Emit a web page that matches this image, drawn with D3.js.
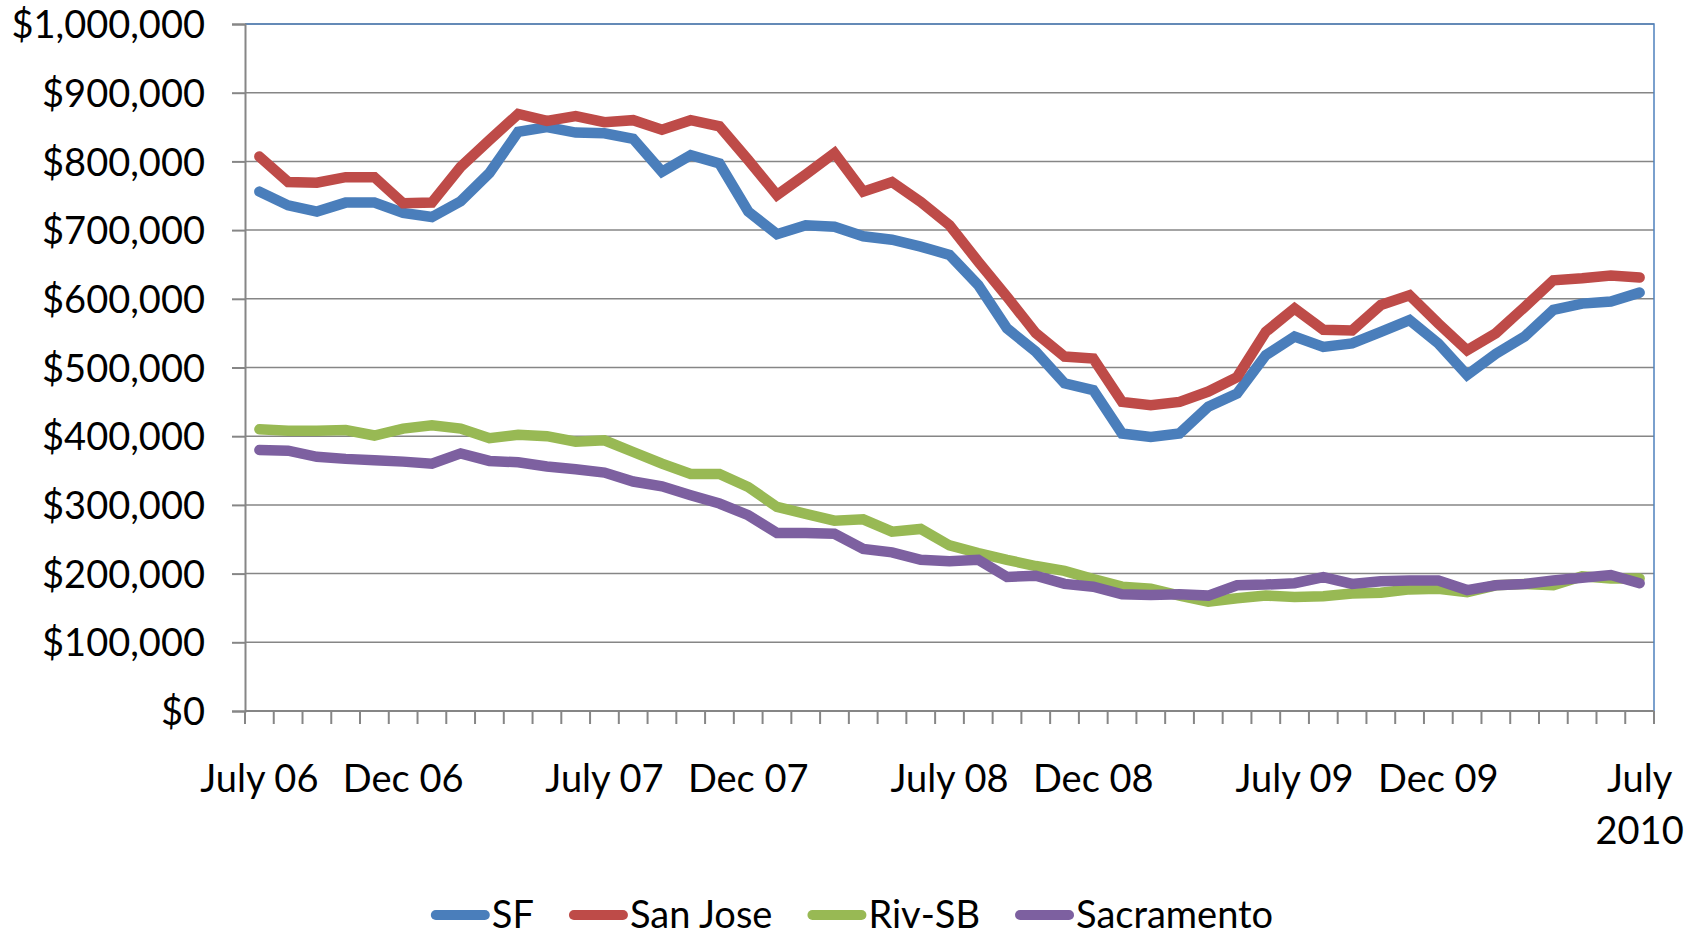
<!DOCTYPE html>
<html>
<head>
<meta charset="utf-8">
<script src="https://cdn.jsdelivr.net/npm/d3@7"></script>
<style>
  html, body { margin: 0; padding: 0; background: #fff; }
  svg { display: block; font-family: Lato, "Noto Sans", sans-serif; }
  .label { font-size: 38px; fill: #000; }
</style>
</head>
<body>
<div id="chart"></div>
<script>
// months July 2006 .. July 2010
const months = [
  "2006-07", "2006-08", "2006-09", "2006-10", "2006-11", "2006-12",
  "2007-01", "2007-02", "2007-03", "2007-04", "2007-05", "2007-06",
  "2007-07", "2007-08", "2007-09", "2007-10", "2007-11", "2007-12",
  "2008-01", "2008-02", "2008-03", "2008-04", "2008-05", "2008-06",
  "2008-07", "2008-08", "2008-09", "2008-10", "2008-11", "2008-12",
  "2009-01", "2009-02", "2009-03", "2009-04", "2009-05", "2009-06",
  "2009-07", "2009-08", "2009-09", "2009-10", "2009-11", "2009-12",
  "2010-01", "2010-02", "2010-03", "2010-04", "2010-05", "2010-06",
  "2010-07",
];

// median prices, $ thousands
const sf = [
  756, 736, 727, 740, 740, 725, 719, 742, 783, 843, 850, 842, 841, 833, 785, 809, 797,
  727, 694, 707, 705, 691, 686, 676, 664, 620, 557, 523, 477, 467, 404, 399, 404,
  443, 462, 518, 545, 530, 535, 552, 569, 535, 489, 520, 545, 584, 593, 596, 609,
];
const sanJose = [
  807, 770, 769, 777, 777, 739, 740, 792, 831, 869, 859, 866, 857, 860, 846, 860, 851,
  802, 751, 781, 812, 756, 770, 741, 707, 654, 603, 550, 516, 513, 450, 445, 450,
  465, 486, 552, 586, 555, 554, 591, 605, 564, 525, 550, 588, 627, 630, 634, 631,
];
const rivSB = [
  410, 408, 408, 409, 401, 411, 416, 411, 397, 402, 400, 392, 394, 377, 360, 345, 345,
  326, 297, 287, 277, 279, 261, 265, 241, 230, 220, 211, 204, 192, 181, 178, 168,
  159, 164, 168, 166, 167, 171, 172, 177, 178, 173, 183, 185, 183, 196, 193, 193,
];
const sacramento = [
  380, 379, 370, 367, 365, 363, 360, 375, 364, 362, 356, 352, 347, 334, 327, 314, 302,
  285, 259, 259, 258, 236, 231, 220, 218, 220, 195, 197, 185, 181, 170, 169, 170,
  168, 183, 184, 186, 195, 185, 189, 190, 190, 176, 183, 185, 190, 194, 198, 186,
];

const seriesNames = ["SF", "San Jose", "Riv-SB", "Sacramento"];
const seriesColors = ["#4a7ebb", "#be4b48", "#98b954", "#7d60a0"];
const seriesValues = [sf, sanJose, rivSB, sacramento];

const yTicks = [0, 100000, 200000, 300000, 400000, 500000, 600000, 700000, 800000, 900000, 1000000];
const xTickLabels = [
  ["2006-07", ["July 06"]],
  ["2006-12", ["Dec 06"]],
  ["2007-07", ["July 07"]],
  ["2007-12", ["Dec 07"]],
  ["2008-07", ["July 08"]],
  ["2008-12", ["Dec 08"]],
  ["2009-07", ["July 09"]],
  ["2009-12", ["Dec 09"]],
  ["2010-07", ["July", "2010"]],
];

const width = 1704;
const height = 935;
const margin = { top: 24, right: 50, bottom: 224, left: 245 };
const axisColor = "#868686";

const svg = d3.select("#chart").append("svg")
  .attr("width", width)
  .attr("height", height);

const x = d3.scaleBand()
  .domain(months)
  .range([margin.left, width - margin.right]);

const y = d3.scaleLinear()
  .domain([0, 1000000])
  .range([height - margin.bottom, margin.top]);

const xc = (m) => x(m) + x.bandwidth() / 2;
const fmt = (v) => "$" + d3.format(",")(v);

// gridlines
svg.append("g")
  .selectAll("line")
  .data(yTicks.slice(1))
  .join("line")
  .attr("x1", margin.left)
  .attr("x2", width - margin.right)
  .attr("y1", (d) => y(d))
  .attr("y2", (d) => y(d))
  .attr("stroke", axisColor)
  .attr("stroke-width", 1.5);

// plot area border (top + right are blue)
svg.append("path")
  .attr("d", `M${margin.left},${y(1000000)}H${width - margin.right}V${y(0)}`)
  .attr("fill", "none")
  .attr("stroke", "#4f81bd")
  .attr("stroke-width", 1.5);

// y axis
const yAxis = svg.append("g")
  .attr("transform", `translate(${margin.left},0)`)
  .call(d3.axisLeft(y).tickValues(yTicks).tickSize(13).tickPadding(27).tickFormat(fmt))
  .attr("font-family", null)
  .attr("font-size", null);
yAxis.select(".domain").attr("stroke", axisColor).attr("stroke-width", 2);
yAxis.selectAll(".tick line").attr("stroke", axisColor).attr("stroke-width", 2);
yAxis.selectAll(".tick text")
  .attr("class", "label")
  .attr("dy", "0.36em");

// x axis: ticks on month boundaries, labels under chosen months
const xAxis = svg.append("g")
  .attr("transform", `translate(0,${y(0)})`);
xAxis.append("line")
  .attr("x1", margin.left)
  .attr("x2", width - margin.right)
  .attr("stroke", axisColor)
  .attr("stroke-width", 2);
xAxis.selectAll(".xtick")
  .data(months.concat(["end"]))
  .join("line")
  .attr("class", "xtick")
  .attr("x1", (d, i) => margin.left + i * x.bandwidth())
  .attr("x2", (d, i) => margin.left + i * x.bandwidth())
  .attr("y1", 0)
  .attr("y2", 13)
  .attr("stroke", axisColor)
  .attr("stroke-width", 2);

xAxis.selectAll(".xlabel")
  .data(xTickLabels)
  .join("text")
  .attr("class", "label xlabel")
  .attr("text-anchor", "middle")
  .attr("transform", (d) => `translate(${xc(d[0])},81)`)
  .selectAll("tspan")
  .data((d) => d[1])
  .join("tspan")
  .attr("x", 0)
  .attr("y", (d, i) => i * 52)
  .text((d) => d);

// lines
const line = d3.line()
  .x((d, i) => xc(months[i]))
  .y((d) => y(d * 1000));

svg.append("g")
  .selectAll("path")
  .data(seriesValues)
  .join("path")
  .attr("d", line)
  .attr("fill", "none")
  .attr("stroke", (d, i) => seriesColors[i])
  .attr("stroke-width", 10.5)
  .attr("stroke-linecap", "round")
  .attr("stroke-linejoin", "miter");

// legend
const legend = svg.append("g").attr("transform", `translate(0,915)`);
const items = legend.selectAll("g")
  .data(seriesNames)
  .join("g");
items.append("line")
  .attr("x1", 5)
  .attr("x2", 54)
  .attr("stroke", (d, i) => seriesColors[i])
  .attr("stroke-width", 10)
  .attr("stroke-linecap", "round");
items.append("text")
  .attr("class", "label")
  .attr("x", 61)
  .attr("y", 13)
  .text((d) => d);

let cursor = 0;
const offsets = [];
items.each(function () {
  offsets.push(cursor);
  const w = 61 + this.querySelector("text").getComputedTextLength();
  cursor += w + 35;
});
const total = cursor - 35;
const start = width / 2 - total / 2;
items.attr("transform", (d, i) => `translate(${start + offsets[i]},0)`);
</script>
</body>
</html>
